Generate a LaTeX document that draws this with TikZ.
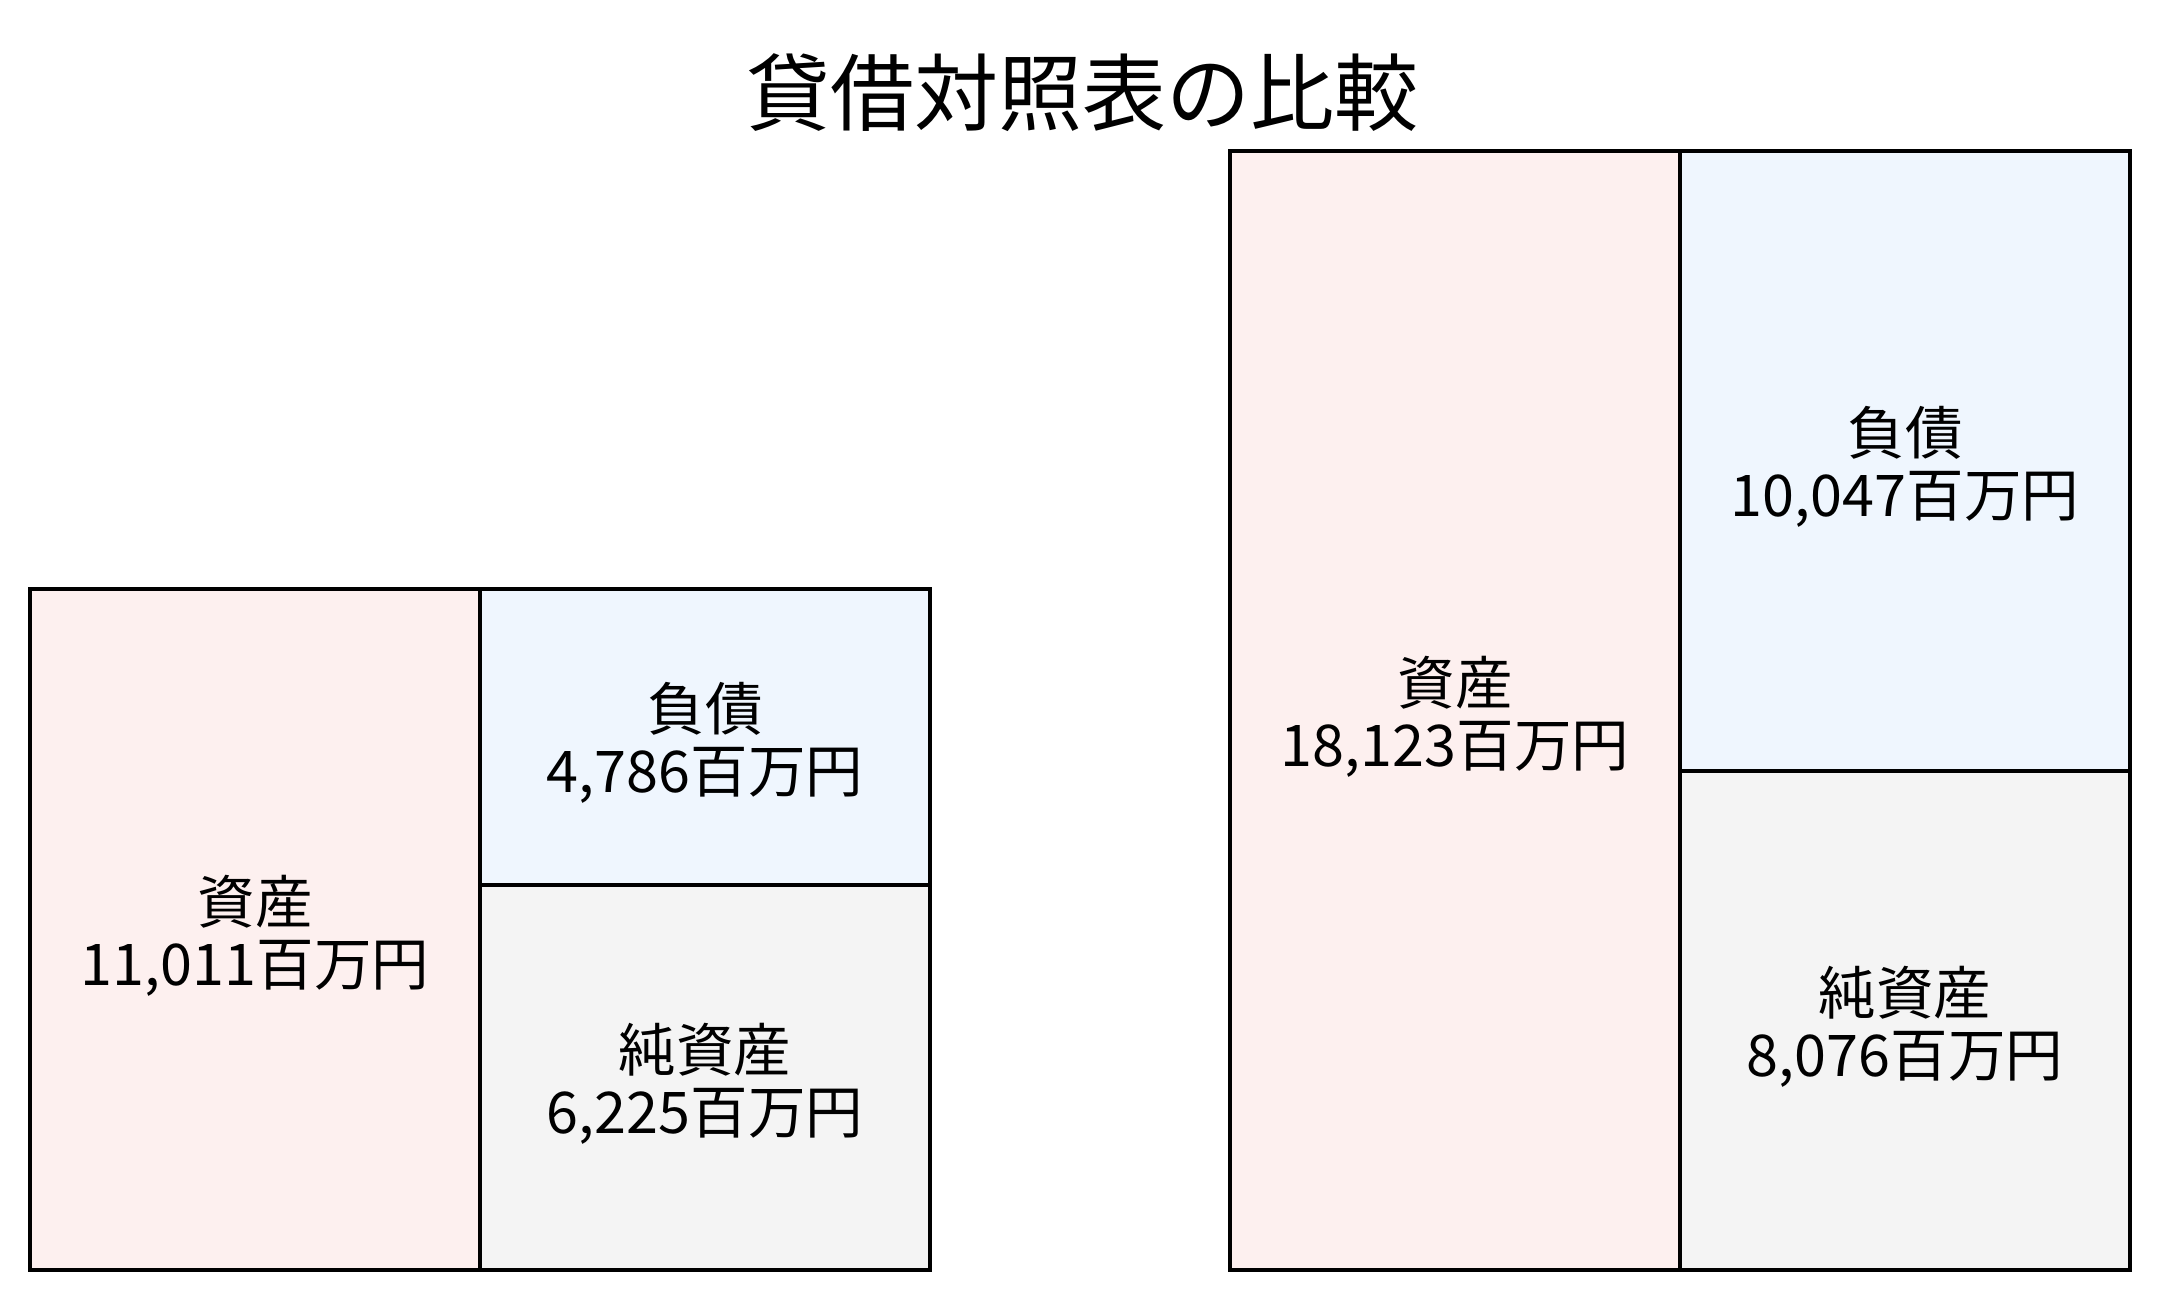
\documentclass[tikz,border=0pt]{standalone}
\usepackage{fontspec}
\setmainfont{Noto Sans CJK JP}
\definecolor{pinkc}{RGB}{253,240,239}
\definecolor{bluec}{RGB}{239,246,254}
\definecolor{greyc}{RGB}{244,244,244}
\tikzset{
  cell/.style={draw=black, line width=4pt, inner sep=0pt, outer sep=0pt},
  celltext/.style={align=center, inner sep=0pt, font=\fontsize{57.5}{62}\selectfont},
  titletext/.style={font=\fontsize{84}{90}\selectfont, inner sep=0pt}
}
\begin{document}
\begin{tikzpicture}[x=1pt,y=-1pt]
\useasboundingbox (0,0) rectangle (2160,1300);
\node[titletext] (title) at (1082,93) {貸借対照表の比較};
% left balance sheet
\node[cell, fill=pinkc, minimum width=450pt, minimum height=681pt] (la) at (255,929.5) {};
\node[cell, fill=bluec, minimum width=450pt, minimum height=296pt] (ll) at (705,737) {};
\node[cell, fill=greyc, minimum width=450pt, minimum height=385pt] (ln) at (705,1077.5) {};
\node[celltext] (la-t) at ([yshift=-6pt]la.center) {資産\\11,011百万円};
\node[celltext] (ll-t) at ([yshift=-6pt]ll.center) {負債\\4,786百万円};
\node[celltext] (ln-t) at ([yshift=-6pt]ln.center) {純資産\\6,225百万円};
% right balance sheet
\node[cell, fill=pinkc, minimum width=450pt, minimum height=1119pt] (ra) at (1455,710.5) {};
\node[cell, fill=bluec, minimum width=450pt, minimum height=620pt] (rl) at (1905,461) {};
\node[cell, fill=greyc, minimum width=450pt, minimum height=499pt] (rn) at (1905,1020.5) {};
\node[celltext] (ra-t) at ([yshift=-6pt]ra.center) {資産\\18,123百万円};
\node[celltext] (rl-t) at ([yshift=-6pt]rl.center) {負債\\10,047百万円};
\node[celltext] (rn-t) at ([yshift=-6pt]rn.center) {純資産\\8,076百万円};
\end{tikzpicture}
\end{document}
